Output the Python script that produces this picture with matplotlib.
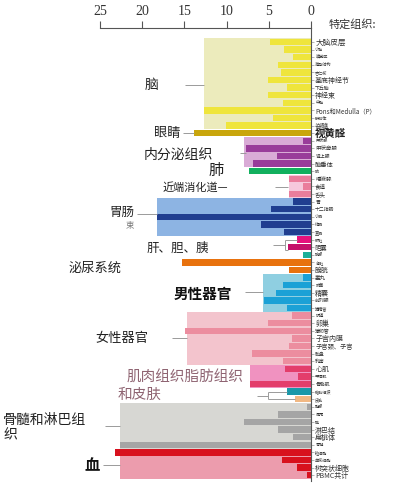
import matplotlib
matplotlib.use("Agg")
import matplotlib.pyplot as plt

plt.rcParams['font.family'] = ['Noto Sans CJK SC', 'DejaVu Sans']

# ---------------- data ----------------
tissues = [
    "大脑皮层", "小脑", "嗅觉区", "海马结构", "杏仁核", "基底神经节", "下丘脑", "神经束", "中脑",
    "Pons和Medulla（P）", "胼胝体", "脊髓",
    "视黄醛",
    "甲状腺", "甲状旁腺", "肾上腺", "脑垂体",
    "肺",
    "唾液腺", "食道", "舌头",
    "胃", "十二指肠", "小肠", "结肠", "直肠",
    "肝脏", "胆囊", "胰腺",
    "肾脏", "膀胱",
    "睾丸", "附睾", "精囊", "前列腺", "输精管",
    "阴道", "卵巢", "输卵管", "子宫内膜", "子宫颈、子宫", "胎盘", "乳房",
    "心肌", "平滑肌", "骨骼肌",
    "脂肪组织",
    "皮肤",
    "胸腺", "阑尾", "脾", "淋巴结", "扁桃体", "骨髓",
    "粒细胞", "单核细胞", "树突状细胞", "PBMC共计",
]
values = [
    4.9, 3.2, 2.1, 3.9, 3.6, 5.1, 2.8, 5.1, 3.3, 12.7, 4.5, 10.1,
    13.9,
    0.9, 7.7, 4.0, 6.9,
    7.3,
    2.6, 0.9, 2.6,
    2.1, 4.7, 18.2, 5.9, 3.2,
    1.7, 2.7, 0.9,
    15.3, 2.6,
    0.9, 3.3, 4.1, 5.6, 2.8,
    2.2, 5.1, 14.9, 2.2, 2.6, 7.0, 3.3,
    3.1, 1.5, 7.2,
    2.8,
    1.9,
    0.5, 3.9, 7.9, 3.9, 2.1, 22.6,
    23.2, 3.4, 1.7, 0.5,
]
group_sizes = [12, 1, 4, 1, 3, 5, 3, 2, 5, 7, 3, 1, 1, 6, 4]
group_bg_values = [12.7, 0, 7.9, 0, 2.6, 18.2, 0, 0, 5.7, 14.7, 7.2, 0, 0, 22.6, 22.6]
x_ticks = [0, 5, 10, 15, 20, 25]

# ---------------- style ----------------
group_bar_colors = [
    ["#efe53c"], ["#c9a60c"], ["#993c9a"], ["#12b05e"], ["#ea7d9c"], ["#203e90"],
    ["#e6117c", "#c5116b", "#1bb098"], ["#e8720e"], ["#1ba1d6"], ["#ec8d9f"],
    ["#e33d6b"], ["#1a98a9"], ["#f1b883"], ["#a5a5a5"], ["#d8111e"],
]
group_bg_colors = [
    "#ecebbc", None, "#d9abd6", None, "#f6c8dc", "#8db4e3", None, None,
    "#8fcfe1", "#f3c4cd", "#f092c0", None, None, "#d7d7d3", "#ec9cad",
]
label_sizes = [
    5.5, 3, 3, 3, 3, 5, 3.5, 5, 3, 4.5, 3, 5,
    7.5,
    3, 4, 3.5, 4.5,
    3,
    4, 4, 4,
    3.5, 3.5, 3, 3, 3,
    3, 4.5, 3,
    3, 5,
    4, 3, 5, 3.5, 3,
    3, 5, 3.5, 5, 4.5, 3.5, 3.5,
    5, 3, 3.5,
    3,
    3,
    3, 3, 3, 5, 5, 3,
    3, 3, 5, 5,
]

W, H = 393, 486
fig = plt.figure(figsize=(W / 100, H / 100), dpi=100)
ax_top_px = 28
ax = fig.add_axes([0, 0, 1, (H - ax_top_px) / H])

px_per_unit = 8.44
zero_px = 311
row0_px = 42
row_px = 7.6
ax.set_xlim(zero_px / px_per_unit, (zero_px - W) / px_per_unit)
ax.set_ylim((H - row0_px) / row_px, (ax_top_px - row0_px) / row_px)

rows = list(range(len(tissues)))

# group backgrounds and bars
start = 0
bar_colors = []
for g, n in enumerate(group_sizes):
    idx = rows[start:start + n]
    if group_bg_colors[g] is not None and group_bg_values[g] > 0:
        ax.barh((idx[0] + idx[-1]) / 2, group_bg_values[g], height=n,
                color=group_bg_colors[g], zorder=1, linewidth=0)
    cols = group_bar_colors[g]
    for k in range(n):
        bar_colors.append(cols[k % len(cols)])
    start += n

ax.barh(rows, values, height=0.86, color=bar_colors, zorder=2, linewidth=0)

# axes styling
for s in ["left", "bottom"]:
    ax.spines[s].set_visible(False)
ax.spines["top"].set_bounds(0, 25)
ax.spines["top"].set_color("#555555")
ax.spines["top"].set_linewidth(0.8)
ax.spines["right"].set_position(("data", 0))
ax.spines["right"].set_bounds((ax_top_px - row0_px) / row_px, 57.8)
ax.spines["right"].set_color("#555555")
ax.spines["right"].set_linewidth(0.8)
ax.spines["right"].set_zorder(5)

ax.xaxis.tick_top()
ax.set_xticks(x_ticks)
ax.set_xticklabels([str(t) for t in x_ticks], family="Liberation Serif",
                   fontsize=10, color="#333333")
ax.tick_params(axis="x", direction="out", length=5, width=0.8, color="#555555", pad=2)

ax.yaxis.tick_right()
ax.set_yticks(rows)
ax.set_yticklabels(tissues)
ax.tick_params(axis="y", direction="out", length=2, width=0.5, color="#999999", pad=1)
for lab, fs in zip(ax.get_yticklabels(), label_sizes):
    lab.set_fontsize(fs)
    lab.set_color("#333333")
ax.get_yticklabels()[12].set_fontweight("bold")
ax.get_yticklabels()[12].set_color("#222222")

fig.text(329 / W, 1 - 24 / H, "特定组织:", fontsize=8, color="#333333", va="center")


def X(px):
    return (zero_px - px) / px_per_unit


def Y(py):
    return (py - row0_px) / row_px


lc = "#9a9a9a"
lw = 0.7


def line(x0, x1, y0, y1):
    ax.plot([X(x0), X(x1)], [Y(y0), Y(y1)], color=lc, lw=lw, zorder=3,
            clip_on=False, solid_capstyle="butt")


txt = "#222222"
ax.text(X(152), Y(85), "脑", fontsize=10, ha="center", va="center", color=txt)
line(185, 204, 85, 85)
ax.text(X(167), Y(133), "眼睛", fontsize=9.5, ha="center", va="center", color=txt)
line(183, 194, 133, 133)
ax.text(X(178), Y(155), "内分泌组织", fontsize=10, ha="center", va="center", color=txt)
line(240, 246, 153, 153)
ax.text(X(216), Y(170), "肺", fontsize=11, ha="center", va="center", color=txt)
ax.text(X(163), Y(187), "近端消化道—", fontsize=8, ha="left", va="center", color=txt)
line(275, 288, 187, 187)
ax.text(X(122), Y(212), "胃肠", fontsize=9, ha="center", va="center", color=txt)
ax.text(X(130), Y(225), "束", fontsize=6, ha="center", va="center", color="#777777")
line(137, 157, 214, 214)
ax.text(X(178), Y(248), "肝、胆、胰", fontsize=9, ha="center", va="center", color=txt)
line(273, 285, 245, 245)
line(285, 285, 240, 250)
line(285, 297, 240, 240)
line(285, 288, 250, 250)
ax.text(X(95), Y(268), "泌尿系统", fontsize=9.5, ha="center", va="center", color=txt)
ax.text(X(203), Y(294), "男性器官", fontsize=10.5, ha="center", va="center",
        color="#111111", fontweight="bold")
line(245, 263, 292, 292)
ax.text(X(122), Y(338), "女性器官", fontsize=9.5, ha="center", va="center", color=txt)
line(172, 187, 338, 338)
ax.text(X(127), Y(378), "肌肉组织脂肪组织", fontsize=10.5, ha="left", va="center",
        color="#8f6472", zorder=4,
        bbox=dict(facecolor="white", edgecolor="none", pad=1.5))
ax.text(X(118), Y(395), "和皮肤", fontsize=10.5, ha="left", va="center",
        color="#8f6472", zorder=4)
line(257, 268, 396, 396)
line(268, 268, 392, 399)
line(268, 287, 392, 392)
line(268, 295, 399, 399)
ax.text(X(3), Y(420), "骨髓和淋巴组", fontsize=10, ha="left", va="center", color=txt)
ax.text(X(3), Y(435), "织", fontsize=10, ha="left", va="center", color=txt)
line(105, 120, 426, 426)
ax.text(X(92), Y(465), "血", fontsize=11, ha="center", va="center", color="#111111",
        fontweight="bold")
line(103, 120, 465, 465)

fig.savefig("out.png", dpi=100)
